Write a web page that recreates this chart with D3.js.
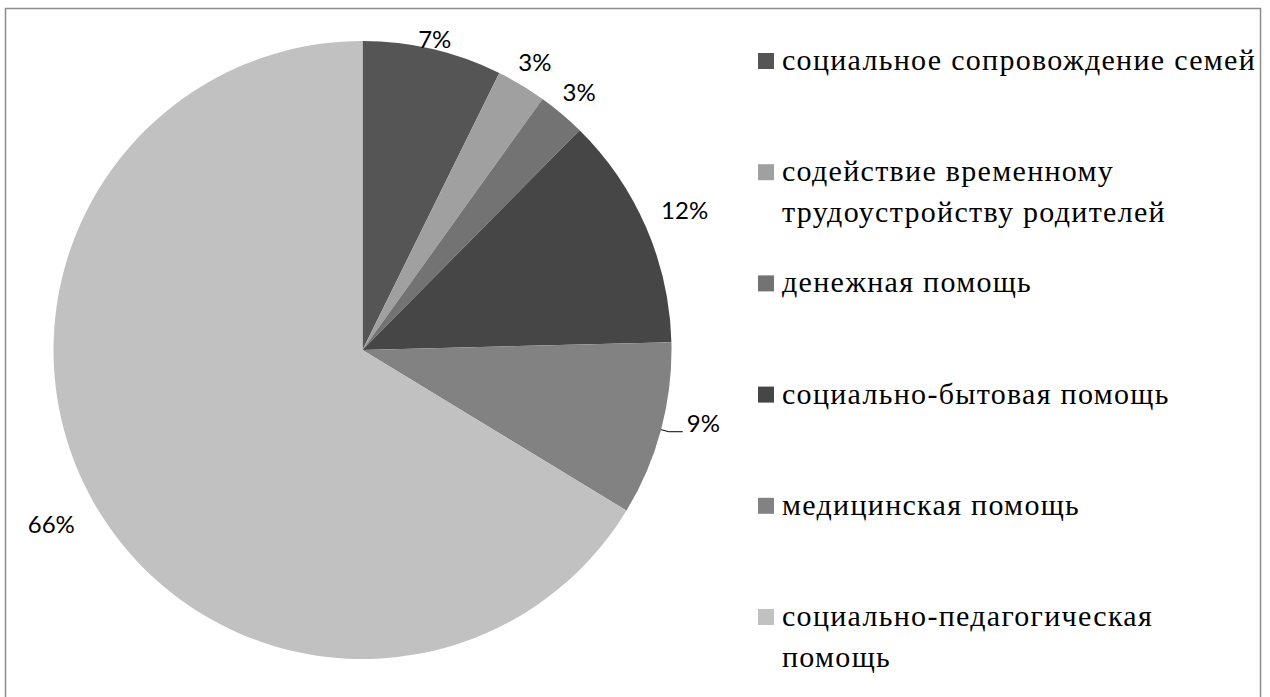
<!DOCTYPE html>
<html>
<head>
<meta charset="utf-8">
<script src="https://cdn.jsdelivr.net/npm/d3@7"></script>
</head>
<body style="margin:0">
<script>
// data
const categories = [
  ["социальное сопровождение семей"],
  ["содействие временному", "трудоустройству родителей"],
  ["денежная помощь"],
  ["социально-бытовая помощь"],
  ["медицинская помощь"],
  ["социально-педагогическая", "помощь"]
];
const values = [7.3, 2.6, 2.5, 12.2, 9.1, 66.3];
const pctLabels = ["7%", "3%", "3%", "12%", "9%", "66%"];
const colors = ["#555555", "#a0a0a0", "#737373", "#464646", "#828282", "#c1c1c1"];

// layout
const width = 1270, height = 697;
const cx = 362.5, cy = 350, radius = 309;
// how far from the centre each % label sits (Excel "best fit" look)
const labelDist = [318, 335, 336, 351, 0, 357];
const leaderIndex = 4;

const svg = d3.select("body").append("svg")
  .attr("width", width)
  .attr("height", height);

// chart frame
svg.append("rect")
  .attr("x", 5.5).attr("y", 8.5)
  .attr("width", 1255).attr("height", 700)
  .attr("fill", "none")
  .attr("stroke", "#8c8c8c")
  .attr("stroke-width", 1.5);

const pie = d3.pie().sort(null).value(d => d);
const arcs = pie(values);
const arc = d3.arc().innerRadius(0).outerRadius(radius);

const plot = svg.append("g").attr("transform", `translate(${cx}, ${cy})`);

plot.selectAll("path.slice")
  .data(arcs)
  .enter().append("path")
  .attr("class", "slice")
  .attr("d", arc)
  .attr("fill", (d, i) => colors[i]);

// percentage labels
function pointAt(angle, r) {
  return [Math.sin(angle) * r, -Math.cos(angle) * r];
}

arcs.forEach(function (d, i) {
  const mid = (d.startAngle + d.endAngle) / 2;
  if (i === leaderIndex) {
    const p0 = pointAt(mid, radius);
    const p1 = pointAt(mid, radius + 8);
    const p2 = [p1[0] + 14, p1[1]];
    plot.append("polyline")
      .attr("points", [p0, p1, p2].map(p => p.join(",")).join(" "))
      .attr("fill", "none")
      .attr("stroke", "#000")
      .attr("stroke-width", 1);
    plot.append("text")
      .attr("x", p2[0] + 4)
      .attr("y", p2[1])
      .attr("text-anchor", "start")
      .attr("font-family", "Lato")
      .attr("font-size", 24)
      .text(pctLabels[i]);
  } else {
    const p = pointAt(mid, labelDist[i]);
    plot.append("text")
      .attr("x", p[0])
      .attr("y", p[1] + 8)
      .attr("text-anchor", "middle")
      .attr("font-family", "Lato")
      .attr("font-size", 24)
      .text(pctLabels[i]);
  }
});

// legend
const legendX = 758, legendTop = 61, legendStep = 111.2, lineGap = 41, box = 16;

categories.forEach(function (lines, i) {
  const y0 = legendTop + i * legendStep;
  svg.append("rect")
    .attr("x", legendX).attr("y", y0 - box / 2)
    .attr("width", box).attr("height", box)
    .attr("fill", colors[i]);
  lines.forEach(function (line, j) {
    svg.append("text")
      .attr("x", legendX + 24)
      .attr("y", y0 + 9 + j * lineGap)
      .attr("font-family", "Liberation Serif")
      .attr("font-size", 30)
      .attr("letter-spacing", 1.3)
      .text(line);
  });
});
</script>
</body>
</html>
